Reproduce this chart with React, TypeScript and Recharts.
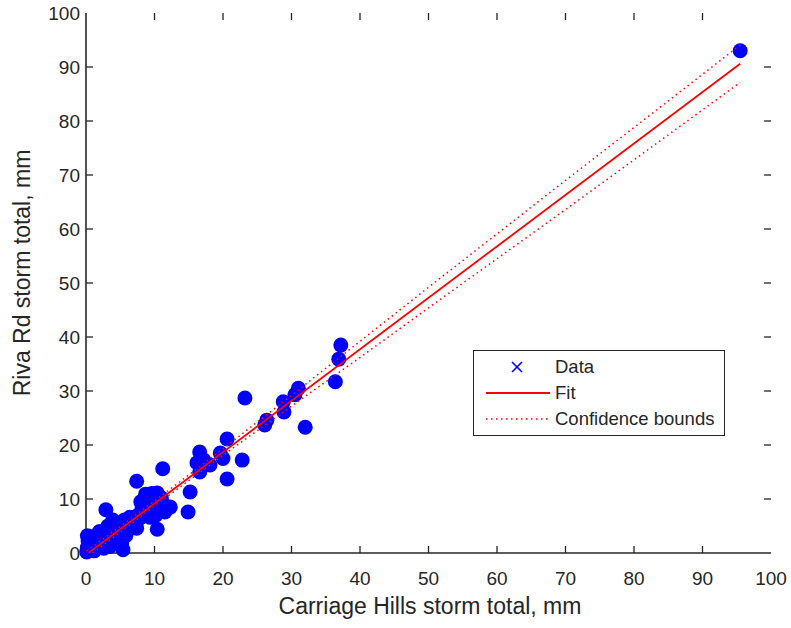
import { ScatterChart, Scatter, XAxis, YAxis } from "recharts";

// storm totals (mm): Carriage Hills (x) vs Riva Rd (y)
const dataX = [
  0.1, 0.2, 0.3, 0.2, 0.6, 0.9, 1.2, 1.5, 1.9, 2.3, 2.6, 2.0, 3.1, 3.6, 3.2, 3.9, 4.4, 4.8, 5.4, 5.2,
  5.8, 5.0, 5.6, 6.4, 6.8, 7.2, 7.0, 2.9, 7.9, 8.2, 8.4, 9.1, 8.9, 9.3, 8.7, 9.6, 10.4, 10.0, 10.6, 11.0,
  10.2, 9.4, 11.3, 10.4, 12.3, 14.9, 15.2, 7.4, 11.2, 16.2, 16.6, 16.6, 18.1, 19.6, 20.6, 20.6, 22.8, 20.0, 17.2, 23.2,
  26.1, 26.4, 28.8, 28.9, 30.5, 31.0, 32.0, 36.4, 36.9, 37.2, 95.5,
  1.0, 1.5, 2.5, 3.5, 4.2, 4.0, 6.2, 6.0, 7.6, 8.0, 9.8, 10.8, 11.5, 9.0, 7.4, 5.5, 3.0, 0.4, 1.8, 6.6, 10.3,
];
const dataY = [
  0.2, 1.0, 2.2, 3.2, 0.5, 1.6, 0.4, 2.6, 1.2, 3.4, 0.9, 4.0, 2.0, 3.1, 5.0, 6.1, 4.2, 2.6, 0.6, 1.7,
  3.2, 5.6, 6.1, 6.6, 4.8, 6.0, 5.3, 8.0, 6.5, 8.4, 7.6, 8.0, 10.4, 9.8, 10.9, 11.0, 11.1, 9.1, 8.2, 10.2,
  7.0, 6.6, 9.0, 4.4, 8.5, 7.6, 11.3, 13.3, 15.6, 16.7, 18.7, 15.0, 16.3, 18.5, 21.1, 13.7, 17.2, 17.5, 17.2, 28.7,
  23.7, 24.6, 28.0, 26.1, 29.3, 30.5, 23.3, 31.7, 35.9, 38.5, 93.0,
  3.0, 1.0, 2.2, 1.2, 5.3, 2.0, 5.2, 4.0, 7.0, 9.5, 10.4, 9.6, 7.6, 7.2, 4.6, 5.0, 4.0, 1.8, 3.6, 6.0, 10.6,
];

const fitX = [0.4, 95.5];
const fitY = [0.03, 90.6];
const upperX = [0.1, 10, 20, 30, 40, 50, 60, 70, 80, 95.5];
const upperY = [0.35, 9.62, 19.3, 29.2, 39.2, 49.2, 59.1, 69.0, 78.8, 94.05];
const lowerX = [1.0, 10, 20, 30, 40, 50, 60, 70, 80, 95.5];
const lowerY = [0.0, 8.72, 18.1, 27.2, 36.2, 45.4, 54.5, 63.6, 72.8, 87.15];

const ticks = [0, 10, 20, 30, 40, 50, 60, 70, 80, 90, 100];

const W = 791;
const H = 628;
const LEFT = 86;
const RIGHT = 771;
const TOP = 13;
const BOTTOM = 553;
const AX = "#262626";
const FONT = "'Liberation Sans', Arial, Helvetica, sans-serif";

const zip = (xs: number[], ys: number[]) => xs.map((x, i) => ({ x, y: ys[i] }));
const points = zip(dataX, dataY);
const fit = zip(fitX, fitY);
const upper = zip(upperX, upperY);
const lower = zip(lowerX, lowerY);

function XTick({ x, payload }: any) {
  const inner = payload.value !== 0 && payload.value !== 100;
  return (
    <g>
      {inner && <line x1={x} x2={x} y1={BOTTOM} y2={BOTTOM - 7} stroke={AX} strokeWidth={1.3} />}
      {inner && <line x1={x} x2={x} y1={TOP} y2={TOP + 7} stroke={AX} strokeWidth={1.3} />}
      <text x={x} y={BOTTOM + 32} textAnchor="middle" fontSize={19} fill={AX} fontFamily={FONT}>
        {payload.value}
      </text>
    </g>
  );
}

function YTick({ y, payload }: any) {
  const inner = payload.value !== 0 && payload.value !== 100;
  return (
    <g>
      {inner && <line x1={LEFT} x2={LEFT + 7} y1={y} y2={y} stroke={AX} strokeWidth={1.3} />}
      {inner && <line x1={RIGHT} x2={RIGHT - 7} y1={y} y2={y} stroke={AX} strokeWidth={1.3} />}
      <text x={LEFT - 6} y={y + 7} textAnchor="end" fontSize={19} fill={AX} fontFamily={FONT}>
        {payload.value}
      </text>
    </g>
  );
}

const Dot = (p: any) => <circle cx={p.cx} cy={p.cy} r={7.5} fill="#0000ff" />;
const NoDot = () => <g />;

function LegendBox() {
  return (
    <svg
      width={252}
      height={86}
      style={{ position: "absolute", left: 473, top: 350, fontFamily: FONT }}
    >
      <rect x={0.5} y={0.5} width={251} height={85} fill="#fff" stroke={AX} strokeWidth={1} />
      <g stroke="#0000ff" strokeWidth={1.6}>
        <line x1={39} y1={12} x2={49} y2={22} />
        <line x1={49} y1={12} x2={39} y2={22} />
      </g>
      <line x1={13} y1={43} x2={77} y2={43} stroke="#ff0000" strokeWidth={1.8} />
      <line x1={13} y1={69} x2={77} y2={69} stroke="#ff0000" strokeWidth={1.5} strokeDasharray="1.5 3.5" />
      <g fontSize={18.5} fill={AX}>
        <text x={82} y={23}>Data</text>
        <text x={82} y={49}>Fit</text>
        <text x={82} y={75}>Confidence bounds</text>
      </g>
    </svg>
  );
}

export default function App() {
  return (
    <div style={{ position: "absolute", left: 0, top: 0, width: W, height: H, background: "#fff" }}>
      <ScatterChart
        width={W}
        height={H}
        margin={{ top: TOP, right: W - RIGHT, bottom: 0, left: 0 }}
      >
        <XAxis
          type="number"
          dataKey="x"
          domain={[0, 100]}
          ticks={ticks}
          height={H - BOTTOM}
          tickLine={false}
          axisLine={{ stroke: AX, strokeWidth: 1.6 }}
          tick={<XTick />}
          label={() => (
            <text x={430} y={614} textAnchor="middle" fontSize={23} fill={AX} fontFamily={FONT}>
              Carriage Hills storm total, mm
            </text>
          )}
        />
        <XAxis
          xAxisId="top"
          orientation="top"
          type="number"
          dataKey="x"
          domain={[0, 100]}
          height={0}
          tick={false}
          tickLine={false}
          axisLine={{ stroke: AX, strokeWidth: 1.6 }}
        />
        <YAxis
          type="number"
          dataKey="y"
          domain={[0, 100]}
          ticks={ticks}
          width={LEFT}
          tickLine={false}
          axisLine={{ stroke: AX, strokeWidth: 1.6 }}
          tick={<YTick />}
          label={() => (
            <text
              x={30}
              y={273}
              textAnchor="middle"
              fontSize={23}
              fill={AX}
              fontFamily={FONT}
              transform="rotate(-90 30 273)"
            >
              Riva Rd storm total, mm
            </text>
          )}
        />
        <YAxis
          yAxisId="right"
          orientation="right"
          type="number"
          dataKey="y"
          domain={[0, 100]}
          width={0}
          tick={false}
          tickLine={false}
          axisLine={{ stroke: AX, strokeWidth: 1.6 }}
        />
        <Scatter data={points} shape={Dot} isAnimationActive={false} />
        <Scatter
          data={fit}
          shape={NoDot}
          line={{ stroke: "#ff0000", strokeWidth: 1.8 }}
          isAnimationActive={false}
        />
        <Scatter
          data={upper}
          shape={NoDot}
          line={{ stroke: "#ff0000", strokeWidth: 1.5, strokeDasharray: "1.5 3.5" }}
          isAnimationActive={false}
        />
        <Scatter
          data={lower}
          shape={NoDot}
          line={{ stroke: "#ff0000", strokeWidth: 1.5, strokeDasharray: "1.5 3.5" }}
          isAnimationActive={false}
        />
      </ScatterChart>
      <LegendBox />
    </div>
  );
}
